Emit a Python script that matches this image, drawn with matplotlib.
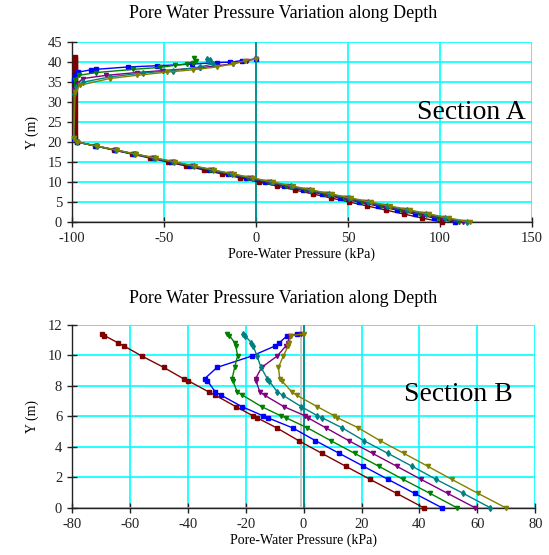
import matplotlib
matplotlib.use("Agg")
import matplotlib.pyplot as plt
import numpy as np

plt.rcParams['font.family'] = ['Liberation Serif', 'DejaVu Serif']
plt.rcParams['axes.unicode_minus'] = False

# ---------------- Section A data ----------------
# lower part: common elevations (m) and pore pressures (kPa)
yA_low = [20, 19, 18, 17, 16, 15, 14, 13, 12, 11, 10, 9, 8, 7, 6, 5, 4, 3, 2, 1, 0]
a_red_low = [-97.0, -87.2, -77.3, -67.5, -57.6, -47.8, -37.9, -28.1, -18.2, -8.4, 1.5,
             11.4, 21.2, 31.1, 40.9, 50.8, 60.6, 70.5, 80.3, 90.2, 101.0]
a_blue_low = [-97.0, -86.8, -76.6, -66.4, -56.2, -46.0, -35.8, -25.6, -15.4, -5.2, 5.0,
              15.3, 25.4, 35.7, 45.8, 56.1, 66.2, 76.5, 86.6, 96.9, 108.0]
a_green_low = [-97.0, -86.7, -76.3, -66.1, -55.7, -45.4, -35.0, -24.8, -14.4, -4.1, 6.3,
               16.6, 26.9, 37.3, 47.6, 57.9, 68.2, 78.6, 88.9, 99.2, 110.5]
a_purple_low = [-97.0, -86.6, -76.1, -65.8, -55.3, -44.9, -34.4, -24.1, -13.6, -3.2, 7.3,
                17.7, 28.1, 38.6, 49.0, 59.4, 69.8, 80.3, 90.7, 101.1, 112.5]
a_teal_low = [-97.0, -86.5, -75.9, -65.5, -54.9, -44.4, -33.8, -23.4, -12.8, -2.3, 8.3,
              18.8, 29.3, 39.9, 50.4, 60.9, 71.4, 82.0, 92.5, 103.0, 114.5]
a_olive_low = [-97.0, -86.4, -75.7, -65.2, -54.5, -43.9, -33.2, -22.7, -12.0, -1.4, 9.3,
               19.9, 30.5, 41.2, 51.8, 62.4, 73.0, 83.7, 94.3, 104.9, 116.5]

# upper part: each series has its own wetting-front shape
a_red_top_y = [41.2, 40.7, 40.2, 39.7, 39.2, 38.7, 38.2, 37.7, 37.2, 36.7, 36.2, 35.7, 35.2,
               34.5, 33.5, 32.5, 31.5, 30.5, 29.5, 28.5, 27.5, 26.5, 25.5, 24.5, 23.5,
               22.5, 21.5, 21.0]
a_red_top_p = [-98.5] * len(a_red_top_y)
a_blue_top_p = [0, -7.6, -14.0, -21.3, -34.9, -54.0, -69.5, -87.0, -89.5, -96.7, -98.2,
                -98.8, -99.0]
a_blue_top_y = [40.8, 40.4, 40.0, 39.9, 39.5, 39.1, 38.8, 38.2, 38.1, 37.5, 36.7,
                35.5, 21.0]
a_green_top_p = [-33.5, -32.8, -34.0, -37.6, -44.0, -52.0, -66.7, -86.7, -96.2, -98.5,
                 -99.0]
a_green_top_y = [41.0, 40.3, 39.9, 39.6, 39.2, 38.7, 38.2, 37.4, 36.7, 35.5, 21.0]
a_purple_top_p = [0, -4.9, -12.2, -30.4, -50.4, -64.9, -81.3, -94.0, -97.5, -98.8,
                  -99.0]
a_purple_top_y = [40.8, 40.4, 39.6, 38.6, 37.9, 37.4, 36.7, 35.9, 34.5, 33.0, 21.0]
a_teal_top_p = [-26.5, -24.9, -23.1, -30.4, -44.9, -61.3, -79.5, -94.0, -97.6, -98.8,
                -99.0]
a_teal_top_y = [40.8, 40.6, 39.6, 38.8, 37.9, 37.3, 36.3, 35.0, 33.8, 32.0, 21.0]
a_olive_top_p = [0, -5.8, -12.2, -21.3, -34.0, -48.5, -64.9, -79.5, -95.8, -98.3,
                 -99.0]
a_olive_top_y = [40.8, 40.4, 39.6, 38.8, 38.1, 37.5, 36.7, 35.9, 34.2, 32.5, 21.0]

# ---------------- Section B data ----------------
yB = [11.38, 11.29, 10.81, 10.61, 9.95, 9.20, 8.45, 8.34, 7.60, 7.38, 6.63, 6.03, 5.90,
      5.24, 4.40, 3.57, 2.73, 1.87, 0.95, 0.0]
b_red = [-69.6, -68.8, -64.1, -62.1, -55.9, -48.3, -41.4, -40.0, -32.8, -30.5, -23.4,
         -17.5, -16.1, -9.3, -1.7, 6.3, 14.5, 22.9, 32.1, 41.5]
b_blue = [-2.4, -5.6, -8.4, -9.8, -17.8, -29.9, -34.2, -33.3, -30.5, -28.5, -21.3,
          -14.0, -12.4, -3.8, 4.1, 12.3, 20.6, 29.1, 38.3, 47.8]
b_green = [-26.3, -25.6, -23.8, -23.4, -22.8, -23.8, -24.7, -24.5, -22.9, -21.1, -14.5,
           -7.9, -6.1, 1.3, 9.4, 17.6, 25.9, 34.3, 43.6, 53.0]
b_purple = [-1.0, -4.7, -5.5, -6.1, -9.1, -14.5, -16.6, -16.5, -15.1, -13.5, -6.8,
            0.5, 1.5, 7.7, 15.6, 23.8, 32.1, 40.5, 49.7, 59.3]
b_teal = [-21.0, -20.3, -18.0, -17.4, -16.1, -14.7, -12.5, -12.0, -9.1, -7.2, -0.8,
          4.8, 6.4, 13.3, 20.8, 29.1, 37.4, 45.7, 55.1, 64.5]
b_olive = [0.0, -4.5, -5.0, -5.3, -7.0, -8.7, -8.2, -7.6, -4.1, -2.4, 4.7, 10.6, 11.7,
           18.9, 26.4, 34.6, 42.8, 51.1, 60.2, 69.8]

colors = {'red': '#800000', 'blue': '#0000ff', 'green': '#008000',
          'purple': '#800080', 'teal': '#008080', 'olive': '#808000'}
markers = {'red': 's', 'blue': 's', 'green': 'v', 'purple': 'v', 'teal': 'd', 'olive': 'v'}

title = 'Pore Water Pressure Variation along Depth'

fig = plt.figure(figsize=(5.49, 5.55), dpi=100)


def style_axes(ax, xlim, ylim, xticks, yticks):
    ax.set_xlim(*xlim)
    ax.set_ylim(*ylim)
    ax.set_xticks(xticks)
    ax.set_yticks(yticks)
    ax.grid(True, color='#00ffff', linewidth=1.2)
    ax.set_axisbelow(True)
    for s in ['top', 'right']:
        ax.spines[s].set_visible(False)
    for s in ['left', 'bottom']:
        ax.spines[s].set_color('#222222')
        ax.spines[s].set_linewidth(1.0)
    ax.tick_params(direction='inout', length=7, width=1, labelsize=10.5, colors='#222222')
    ax.axvline(0, color='#008b8b', linewidth=1.3, zorder=1.5)
    ax.set_xlabel('Pore-Water Pressure (kPa)', fontsize=10, labelpad=2)
    ax.set_ylabel('Y (m)', fontsize=10, labelpad=6)


# ---- Section A ----
axA = fig.add_axes([0.131, 0.600, 0.838, 0.324])
style_axes(axA, (-100, 150), (0, 45), np.arange(-100, 151, 50), np.arange(0, 46, 5))
series_A = [
    ('red', a_red_top_p, a_red_top_y, a_red_low),
    ('blue', a_blue_top_p, a_blue_top_y, a_blue_low),
    ('green', a_green_top_p, a_green_top_y, a_green_low),
    ('purple', a_purple_top_p, a_purple_top_y, a_purple_low),
    ('teal', a_teal_top_p, a_teal_top_y, a_teal_low),
    ('olive', a_olive_top_p, a_olive_top_y, a_olive_low),
]
for name, tp, ty, lp in series_A:
    axA.plot(list(tp) + list(lp), list(ty) + list(yA_low), color=colors[name],
             linewidth=1.0, marker=markers[name], markersize=3, zorder=3,
             clip_on=False)
fig.text(0.516, 0.975, title, fontsize=13, ha='center', va='center')
axA.text(117, 27.5, 'Section A', fontsize=20, ha='center', va='center')

# ---- Section B ----
axB = fig.add_axes([0.131, 0.085, 0.844, 0.330])
style_axes(axB, (-80, 80), (0, 12), np.arange(-80, 81, 20), np.arange(0, 13, 2))
axB.axvline(-0.8, color='#c8c8c8', linewidth=1.5, zorder=1.4)
series_B = [('red', b_red), ('blue', b_blue), ('green', b_green),
            ('purple', b_purple), ('teal', b_teal), ('olive', b_olive)]
for name, vals in series_B:
    axB.plot(vals, yB, color=colors[name], linewidth=1.0, marker=markers[name],
             markersize=3, zorder=3, clip_on=False)
fig.text(0.516, 0.463, title, fontsize=13, ha='center', va='center')
axB.text(53.4, 7.4, 'Section B', fontsize=20, ha='center', va='center')

fig.savefig('out.png', dpi=100)
